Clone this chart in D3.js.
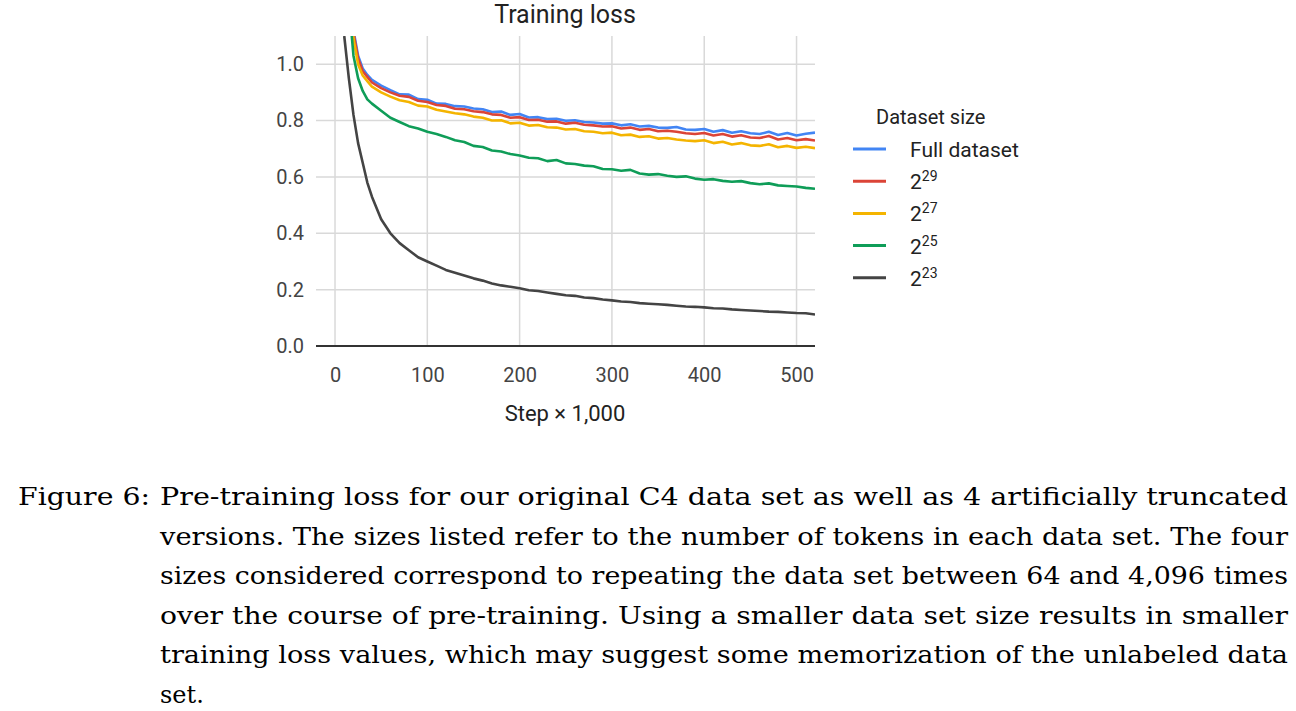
<!DOCTYPE html>
<html><head><meta charset="utf-8">
<script src="https://cdn.jsdelivr.net/npm/d3@7"></script>
<style>body{margin:0;background:#fff}</style>
</head><body><div id="chart"></div>
<script>
// data
const steps = [10,15,20,25,30,35,40,50,60,70,80,90,100,110,120,130,140,150,160,170,180,190,200,210,220,230,240,250,260,270,280,290,300,310,320,330,340,350,360,370,380,390,400,410,420,430,440,450,460,470,480,490,500,510,520];
const full = [1.6,1.35,1.12,1.03,0.985,0.962,0.944,0.924,0.908,0.893,0.892,0.876,0.874,0.86,0.859,0.851,0.85,0.843,0.84,0.83,0.832,0.82,0.823,0.811,0.812,0.805,0.806,0.799,0.801,0.795,0.793,0.789,0.79,0.783,0.787,0.779,0.781,0.775,0.774,0.777,0.768,0.767,0.77,0.76,0.766,0.757,0.762,0.755,0.752,0.76,0.749,0.756,0.747,0.753,0.757];
const s29 = [1.6,1.34,1.11,1.02,0.975,0.955,0.935,0.915,0.9,0.888,0.884,0.87,0.866,0.855,0.852,0.842,0.84,0.833,0.83,0.822,0.82,0.81,0.812,0.802,0.803,0.796,0.797,0.789,0.792,0.785,0.783,0.779,0.78,0.772,0.775,0.767,0.77,0.762,0.764,0.76,0.755,0.752,0.756,0.747,0.752,0.743,0.748,0.74,0.738,0.745,0.733,0.738,0.73,0.734,0.729];
const s27 = [1.58,1.32,1.09,1.0,0.96,0.94,0.92,0.9,0.885,0.872,0.866,0.853,0.85,0.838,0.832,0.826,0.822,0.814,0.81,0.8,0.801,0.79,0.792,0.782,0.784,0.776,0.775,0.768,0.77,0.762,0.76,0.755,0.757,0.748,0.75,0.742,0.744,0.736,0.738,0.733,0.729,0.727,0.73,0.72,0.725,0.715,0.72,0.712,0.71,0.716,0.705,0.71,0.703,0.707,0.702];
const s25 = [1.5,1.22,1.03,0.95,0.905,0.875,0.86,0.835,0.81,0.795,0.78,0.772,0.76,0.752,0.742,0.73,0.724,0.71,0.706,0.694,0.69,0.681,0.676,0.668,0.666,0.656,0.66,0.648,0.646,0.64,0.638,0.628,0.627,0.622,0.625,0.612,0.608,0.61,0.604,0.6,0.602,0.594,0.59,0.592,0.586,0.583,0.585,0.578,0.574,0.577,0.57,0.568,0.566,0.561,0.558];
const s23 = [1.1,0.95,0.82,0.72,0.65,0.58,0.53,0.45,0.4,0.365,0.34,0.315,0.3,0.285,0.27,0.26,0.25,0.24,0.232,0.222,0.215,0.21,0.205,0.198,0.195,0.19,0.185,0.18,0.178,0.172,0.17,0.165,0.162,0.158,0.156,0.152,0.15,0.148,0.146,0.143,0.14,0.139,0.137,0.134,0.133,0.13,0.128,0.126,0.124,0.122,0.121,0.119,0.117,0.116,0.112];
const seriesNames = ["Full dataset","29","27","25","23"];
const seriesColors = ["#4285F4","#DB4437","#F4B400","#0F9D58","#444444"];
const seriesValues = [full, s29, s27, s25, s23];
const xTicks = [0,100,200,300,400,500];
const yTicks = [0,0.2,0.4,0.6,0.8,1.0];
const caption = [
  "Pre-training loss for our original C4 data set as well as 4 artificially truncated",
  "versions. The sizes listed refer to the number of tokens in each data set. The four",
  "sizes considered correspond to repeating the data set between 64 and 4,096 times",
  "over the course of pre-training. Using a smaller data set size results in smaller",
  "training loss values, which may suggest some memorization of the unlabeled data",
  "set."
];

const svg = d3.select("#chart").append("svg").attr("width",1296).attr("height",711)
  .style("font-family","Roboto");
const m = {left:316, right:815, top:36, bottom:346};
const x = d3.scaleLinear().domain([-20.6,520]).range([m.left,m.right]);
const y = d3.scaleLinear().domain([0,1.1]).range([m.bottom,m.top]);

// grid
svg.append("g").selectAll("line").data(xTicks).join("line")
  .attr("x1",d=>x(d)).attr("x2",d=>x(d)).attr("y1",m.top).attr("y2",m.bottom)
  .attr("stroke","#d9d9d9").attr("stroke-width",1.5);
svg.append("g").selectAll("line").data(yTicks.filter(d=>d>0)).join("line")
  .attr("x1",m.left).attr("x2",m.right).attr("y1",d=>y(d)).attr("y2",d=>y(d))
  .attr("stroke","#d9d9d9").attr("stroke-width",1.5);

svg.append("clipPath").attr("id","clip").append("rect")
  .attr("x",m.left).attr("y",m.top).attr("width",m.right-m.left).attr("height",m.bottom-m.top);

const line = d3.line().x((d,i)=>x(steps[i])).y(d=>y(d));
svg.append("g").attr("clip-path","url(#clip)").selectAll("path").data(seriesValues).join("path")
  .attr("d",line).attr("fill","none").attr("stroke",(d,i)=>seriesColors[i])
  .attr("stroke-width",2.6).attr("stroke-linejoin","round");

svg.append("line").attr("x1",m.left).attr("x2",m.right).attr("y1",y(0)).attr("y2",y(0))
  .attr("stroke","#333").attr("stroke-width",2);

// axes
const xa = svg.append("g").attr("transform",`translate(0,${m.bottom+14})`)
  .call(d3.axisBottom(x).tickValues(xTicks).tickSize(0).tickPadding(8));
const ya = svg.append("g").attr("transform",`translate(${m.left-12},0)`)
  .call(d3.axisLeft(y).tickValues(yTicks).tickFormat(d3.format(".1f")).tickSize(0).tickPadding(0));
[xa,ya].forEach(a=>{a.select(".domain").remove();
  a.selectAll("text").attr("font-family","Roboto").attr("font-size",20).attr("fill","#444");});

svg.append("text").attr("x",565).attr("y",23).attr("text-anchor","middle")
  .attr("font-size",25).attr("fill","#222").text("Training loss");
svg.append("text").attr("x",565).attr("y",421).attr("text-anchor","middle")
  .attr("font-size",22).attr("fill","#222").text("Step × 1,000");

// legend
svg.append("text").attr("x",876).attr("y",124).attr("font-size",20).attr("fill","#222").text("Dataset size");
const lg = svg.append("g").selectAll("g").data(seriesNames).join("g")
  .attr("transform",(d,i)=>`translate(0,${149+i*32.2})`);
lg.append("line").attr("x1",853).attr("x2",886).attr("stroke",(d,i)=>seriesColors[i]).attr("stroke-width",3);
lg.append("text").attr("x",910).attr("y",8).attr("font-size",21).attr("fill","#222")
  .each(function(d,i){
    const t = d3.select(this);
    if(i===0){t.text(d);return;}
    t.append("tspan").text("2");
    t.append("tspan").attr("dy",-8).attr("font-size",14).text(d);
  });

// caption
const cap = svg.append("g").attr("font-family","DejaVu Serif").attr("font-size",24).attr("fill","#000");
cap.append("text").attr("x",18).attr("y",505).attr("textLength",132).attr("lengthAdjust","spacingAndGlyphs").text("Figure 6:");
cap.selectAll("text.c").data(caption).join("text").attr("class","c")
  .attr("x",160).attr("y",(d,i)=>505+i*39.6)
  .attr("textLength",(d,i)=>i<caption.length-1?1128:null)
  .attr("lengthAdjust","spacingAndGlyphs")
  .text(d=>d);
</script></body></html>
